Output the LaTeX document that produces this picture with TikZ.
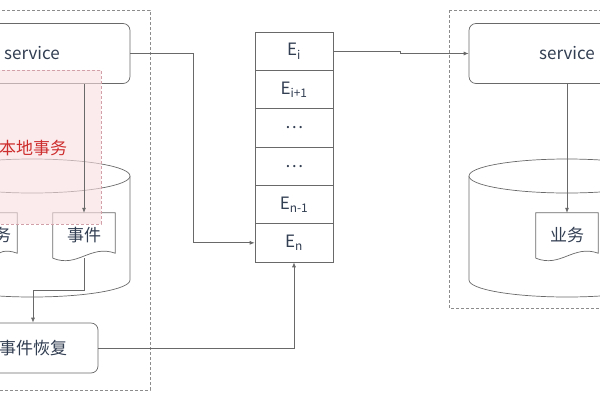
\documentclass[tikz,border=0pt]{standalone}
\usepackage{fontspec}
\setmainfont{Noto Sans CJK SC}
\usepackage{xcolor}
\usepackage{tikz}
\usetikzlibrary{arrows.meta}
\usetikzlibrary{positioning}
\usetikzlibrary{calc}

\definecolor{linegray}{RGB}{105,105,105}
\definecolor{boxgray}{RGB}{140,140,140}
\definecolor{txtblue}{RGB}{50,62,82}
\definecolor{localred}{RGB}{205,45,45}
\definecolor{pinkfill}{RGB}{250,222,224}
\definecolor{pinkline}{RGB}{210,160,168}

% document shape with a wavy bottom, drawn round a named node
\newcommand{\docshape}[1]{%
  \draw[conn] (#1.south west) -- (#1.north west) -- (#1.north east)
    -- ($(#1.south east)+(0,-5)$)
    .. controls ($(#1.south east)+(-25,-14)$) and ($(#1.south west)+(25,10)$) .. (#1.south west);}

\begin{document}
\begin{tikzpicture}[x=1pt, y=-1pt, node distance=0pt]
  \tikzstyle{every node}=[font=\fontsize{17}{20}\selectfont, text=txtblue, inner sep=0pt]
  \tikzstyle{conn}=[draw=linegray, line width=0.7pt]
  \tikzstyle{arr}=[conn, -{Latex[length=5pt,width=4pt]}]
  \tikzstyle{outer}=[draw=boxgray, line width=0.8pt, dash pattern=on 3pt off 2pt]
  \tikzstyle{svc}=[conn, rectangle, rounded corners=7pt, fill=white, minimum width=196pt, minimum height=60pt]
  \tikzstyle{cell}=[conn, rectangle, minimum width=78pt, minimum height=38.33pt]
  \tikzstyle{doc}=[rectangle, minimum width=62pt, minimum height=45pt]
  \useasboundingbox (0,0) rectangle (600,400);
  \clip (0,0) rectangle (600,400);

  % the two sides
  \draw[outer] (-80,10) rectangle (150,390);
  \draw[outer] (449,10) rectangle (690,308);

  \node[svc] (svcL) at (32,53.5) {service};
  \node[svc] (svcR) at (567,53.5) {service};

  % databases
  \draw[conn, fill=white] (-66,176) -- (-66,280) arc[start angle=180, end angle=0, x radius=98, y radius=17] -- (130,176);
  \draw[conn, fill=white] (32,176) ellipse [x radius=98, y radius=17];
  \draw[conn, fill=white] (469,176) -- (469,280) arc[start angle=180, end angle=0, x radius=98, y radius=17] -- (665,176);
  \draw[conn, fill=white] (567,176) ellipse [x radius=98, y radius=17];

  \node[doc, minimum width=46pt] (docW) at (-6,235.5) {业务};
  \node[doc] (docE) at (84,235.5) {事件};
  \node[doc] (docY) at (567,235.5) {业务};
  \docshape{docW}
  \docshape{docE}
  \docshape{docY}

  % local transaction
  \fill[pinkfill, opacity=0.6] (-20,70) rectangle (101,224);
  \draw[pinkline, line width=0.8pt, dash pattern=on 3pt off 2pt] (-20,70) rectangle (101,224);
  \node[text=localred] (local) at (33,148) {本地事务};

  \node[conn, rectangle, rounded corners=7pt, fill=white, minimum width=130pt, minimum height=50pt] (rec) at (33,348) {事件恢复};

  % event queue
  \foreach \lbl [count=\k] in {E\textsubscript{i}, E\textsubscript{i+1}, \dots, \dots, E\textsubscript{n-1}, E\textsubscript{n}}
    \node[cell] (q\k) at (294,{51.17+38.33*(\k-1)}) {\lbl};

  \draw[arr] (svcL.east) -- ++(63,0) |- (q6.west);
  \draw[arr] (q1.east) -- ++(67,0) |- (svcR.west);
  \draw[arr] (docE.north |- svcL.south) -- (docE.north);
  \draw[arr] (docE.south) -- ++(0,32) -| (rec.north);
  \draw[arr] (rec.east) -| (q6.south);
  \draw[arr] (svcR.south) -- (docY.north);
\end{tikzpicture}
\end{document}
